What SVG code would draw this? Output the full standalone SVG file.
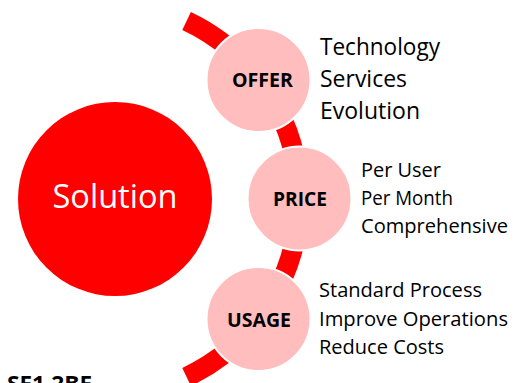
<svg xmlns="http://www.w3.org/2000/svg" width="520" height="383" viewBox="0 0 520 383">
<style>
.pink{fill:#FFBDBD;stroke:#FFFFFF;stroke-width:2}
.lbl{font-family:"Open Sans","Liberation Sans",sans-serif;font-weight:bold;fill:#000;text-anchor:middle;font-size:19px}
.lst{font-family:"Open Sans","Liberation Sans",sans-serif;fill:#000}
.big{font-size:23px}
.small{font-size:20px}
</style>
<rect width="520" height="383" fill="#FFFFFF"/>
<g id="connectors">
<path d="M 186.6 21.0 A 197 197 0 0 1 186.6 377.0" fill="none" stroke="#FF0000" stroke-width="20"/>
</g>
<g id="solution">
<circle cx="115" cy="199" r="97" fill="#FF0000"/>
<text x="115" y="208" font-family="Open Sans, Liberation Sans, sans-serif" font-size="33" fill="#FFFFFF" text-anchor="middle" textLength="125" lengthAdjust="spacingAndGlyphs">Solution</text>
</g>
<g id="offer">
<circle class="pink" cx="258.5" cy="80" r="52"/>
<text class="lbl" x="262.5" y="87" textLength="61" lengthAdjust="spacingAndGlyphs">OFFER</text>
<text class="lst big" x="320" y="55" textLength="120" lengthAdjust="spacingAndGlyphs">Technology</text>
<text class="lst big" x="320" y="87" textLength="87" lengthAdjust="spacingAndGlyphs">Services</text>
<text class="lst big" x="320" y="119" textLength="100" lengthAdjust="spacingAndGlyphs">Evolution</text>
</g>
<g id="price">
<circle class="pink" cx="299.5" cy="198.5" r="52"/>
<text class="lbl" x="300" y="206" textLength="54" lengthAdjust="spacingAndGlyphs">PRICE</text>
<text class="lst small" x="361" y="177" textLength="80" lengthAdjust="spacingAndGlyphs">Per User</text>
<text class="lst small" x="361" y="205" textLength="92" lengthAdjust="spacingAndGlyphs">Per Month</text>
<text class="lst small" x="361" y="233" textLength="147" lengthAdjust="spacingAndGlyphs">Comprehensive</text>
</g>
<g id="usage">
<circle class="pink" cx="258.5" cy="319" r="52"/>
<text class="lbl" x="259" y="327" textLength="64" lengthAdjust="spacingAndGlyphs">USAGE</text>
<text class="lst small" x="319" y="297" textLength="163" lengthAdjust="spacingAndGlyphs">Standard Process</text>
<text class="lst small" x="319" y="326" textLength="189" lengthAdjust="spacingAndGlyphs">Improve Operations</text>
<text class="lst small" x="319" y="354" textLength="125" lengthAdjust="spacingAndGlyphs">Reduce Costs</text>
</g>
<text x="7" y="391" font-family="Open Sans, Liberation Sans, sans-serif" font-weight="bold" font-size="21" fill="#000" textLength="85" lengthAdjust="spacingAndGlyphs">SF1.2BF</text>
</svg>
